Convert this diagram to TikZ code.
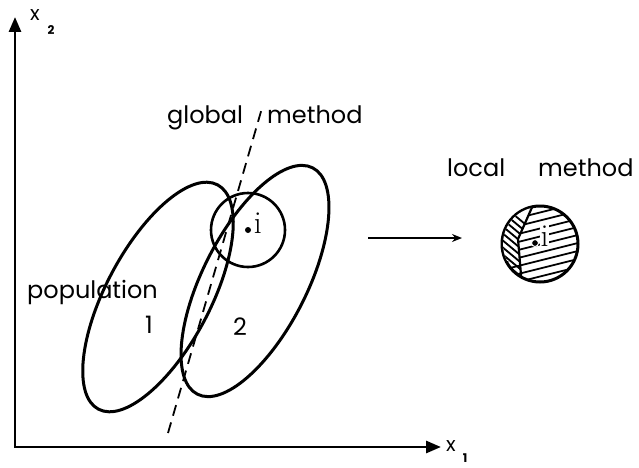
\documentclass[tikz,border=0pt]{standalone}
\usepackage{fontspec}
\newfontfamily\geo{Poppins}
\usetikzlibrary{shapes.geometric, arrows.meta, positioning, calc}

\begin{document}
\begin{tikzpicture}[
    x=1pt, y=1pt,
    pop/.style={ellipse, draw, line width=3pt, inner sep=0pt, minimum width=254pt, minimum height=104pt},
    nbhd/.style={circle, draw, line width=2.6pt, inner sep=0pt, minimum size=74pt},
    axis/.style={{Triangle[length=15pt, width=12pt]}-{Triangle[length=15pt, width=12pt]}, line width=2.8pt},
    arrow/.style={-{Stealth[length=10pt, width=8pt]}, line width=1.6pt},
    lbl/.style={font=\geo\fontsize{24}{28}\selectfont, inner sep=0pt},
    axlbl/.style={font=\geo\fontsize{20}{22}\selectfont, inner sep=0pt},
    sublbl/.style={font=\geo\bfseries\fontsize{12}{14}\selectfont, inner sep=0pt},
    ilbl/.style={font=\fontsize{32}{34}\selectfont, inner sep=0.5pt},
    dot/.style={circle, fill, inner sep=0pt, minimum size=6pt},
    hatch/.style={line width=1.8pt},
]
    \useasboundingbox (0,0) rectangle (639,467);

    % Axes
    \coordinate (origin) at (15,20);
    \coordinate (x2tip) at (15,450);
    \coordinate (x1tip) at (441,20);
    \draw[axis] (x2tip) -- (origin) -- (x1tip);
    \node[axlbl] (xtwo) at (35,452) {x};
    \node[sublbl] (subtwo) at (51,437) {2};
    \node[axlbl] (xone) at (451,21) {x};
    \node[sublbl] (subone) at (465,9) {1};

    % Populations
    \node[pop, rotate=62] (pop1) at (158,170) {};
    \node[pop, rotate=63] (pop2) at (255,186) {};
    \node[lbl] (one) at (149,142) {1};
    \node[lbl] (two) at (240,140) {2};
    \node[lbl, anchor=base west] (population) at (27,169) {population};

    % Neighbourhood of i
    \node[nbhd] (nbhd) at (248,237) {};
    \node[dot] (pti) at (248,237) {};
    \node[ilbl, right=2pt of pti, yshift=7pt] (ilab) {i};

    % Global separating line
    \coordinate (gbot) at (168,34);
    \coordinate (gtop) at (262,359);
    \draw[line width=1.8pt, dash pattern=on 11pt off 7pt] (gbot) -- (gtop);
    \node[lbl, anchor=base west] (global) at (167,344) {global};
    \node[lbl, anchor=base west] (gmethod) at (267,344) {method};

    % Arrow to the local view
    \coordinate (arrstart) at (368,229);
    \coordinate (arrend) at (462,229);
    \draw[arrow] (arrstart) -- (arrend);

    % Local view
    \node[lbl, anchor=base west] (local) at (447,291) {local};
    \node[lbl, anchor=base west] (lmethod) at (538,291) {method};
    \node[nbhd, minimum size=76pt, line width=3pt] (loc) at (540,223) {};
    \begin{scope}
        \clip (loc.center) circle (37pt);
        \foreach \k in {-7,...,7}
            \draw[hatch] ($(loc.center)+(-46,\k*8-12)$) -- ++(92,23);
        \begin{scope}
            \clip (533,262) .. controls (526,246) .. (518,228) -- (522,180) -- (495,180) -- (495,262) -- cycle;
            \fill[white] (495,206) rectangle (540,262);
            \foreach \k in {0,...,12}
                \draw[hatch] (495,268-\k*7) -- ++(30,-25);
        \end{scope}
        \draw[line width=2.2pt] (533,262) .. controls (526,246) .. (518,228) -- (522,180);
    \end{scope}
    \node[dot, fill=black, draw=white, line width=1pt, minimum size=7pt] (lpti) at (535,224) {};
    \node[ilbl, fill=white, right=1pt of lpti, yshift=7pt] (lilab) {i};
\end{tikzpicture}
\end{document}
